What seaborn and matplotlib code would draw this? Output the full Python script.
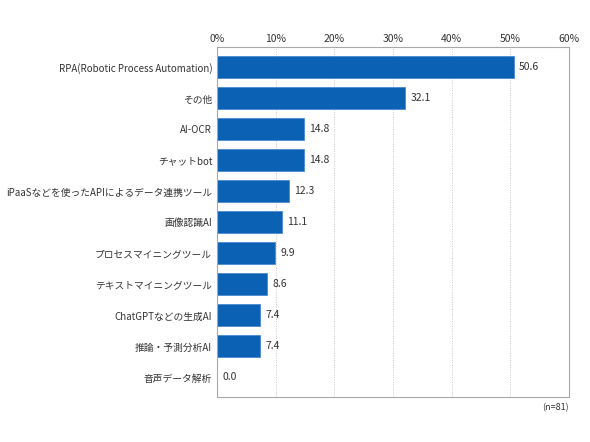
import matplotlib
matplotlib.use("Agg")
import matplotlib.pyplot as plt
import seaborn as sns
import pandas as pd

categories = [
    "RPA(Robotic Process Automation)",
    "その他",
    "AI-OCR",
    "チャットbot",
    "iPaaSなどを使ったAPIによるデータ連携ツール",
    "画像認識AI",
    "プロセスマイニングツール",
    "テキストマイニングツール",
    "ChatGPTなどの生成AI",
    "推論・予測分析AI",
    "音声データ解析",
]
values = [50.6, 32.1, 14.8, 14.8, 12.3, 11.1, 9.9, 8.6, 7.4, 7.4, 0.0]
xticks = [0, 10, 20, 30, 40, 50, 60]
note = "(n=81)"

sns.set_theme(style="white")
plt.rcParams["font.family"] = ["Noto Sans CJK JP", "DejaVu Sans"]

df = pd.DataFrame({"cat": categories, "val": values})

fig = plt.figure(figsize=(5.9, 4.42), dpi=100)
ax = fig.add_axes([217 / 590, 1 - 397 / 442, (569 - 217) / 590, (397 - 47) / 442])

sns.barplot(data=df, x="val", y="cat", ax=ax, color="#0b62b5", width=0.71,
            saturation=1, edgecolor="#4a8ad0", linewidth=0.6)

ax.set_xlim(0, 60)
ax.set_ylim(10.63, -0.66)
ax.set_xticks(xticks)
ax.set_xticklabels([f"{t}%" for t in xticks])
ax.xaxis.tick_top()
ax.tick_params(axis="x", length=0, pad=2.5, labelsize=7.5, colors="#333333")
ax.tick_params(axis="y", length=0, pad=3.5, labelsize=7, colors="#333333")
ax.set_xlabel("")
ax.set_ylabel("")
for t in xticks[1:-1]:
    ax.axvline(t, color="#c8c8c8", linestyle=(0, (1, 1.5)), linewidth=0.7, zorder=0)
for s in ax.spines.values():
    s.set_color("#a8a8a8")
    s.set_linewidth(0.8)

for i, v in enumerate(values):
    ax.text(v + 0.9, i, f"{v:.1f}", va="center", ha="left", fontsize=7.5, color="#333333")

fig.text(569 / 590, 1 - 408 / 442, note, ha="right", va="center", fontsize=6.5, color="#333333")

fig.savefig("out.png", dpi=100)
